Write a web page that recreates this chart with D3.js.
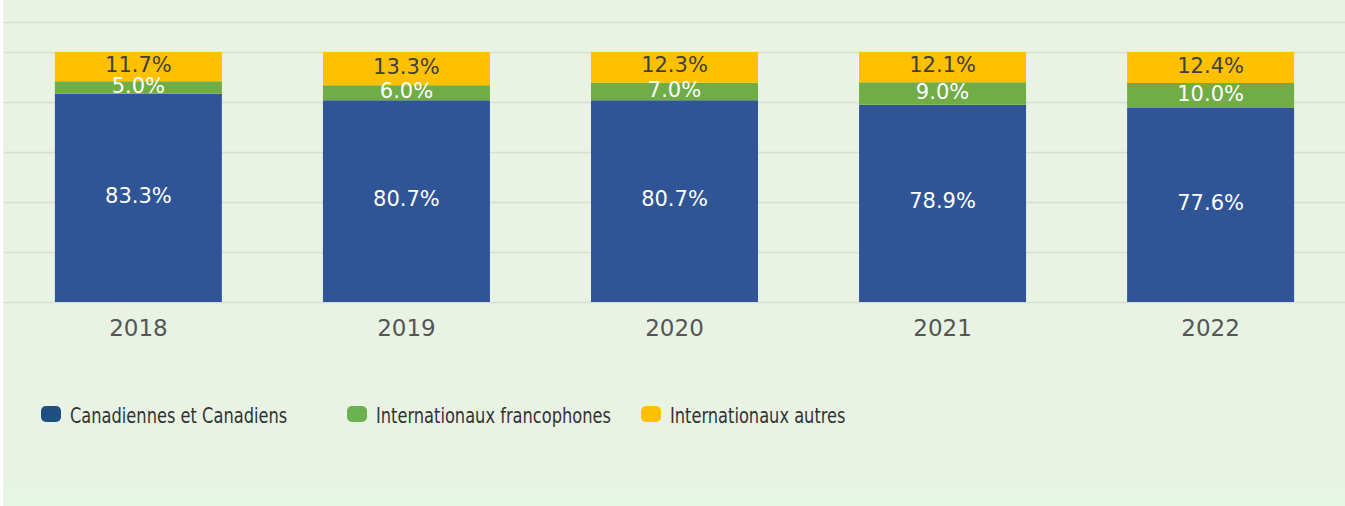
<!DOCTYPE html>
<html>
<head>
<meta charset="utf-8">
<script src="https://cdn.jsdelivr.net/npm/d3@7"></script>
<style>
  html, body { margin: 0; padding: 0; background: #ffffff; }
  svg { display: block; }
</style>
</head>
<body>
<svg width="1345" height="506"></svg>
<script>
// data
const years = ["2018", "2019", "2020", "2021", "2022"];
const canadiens = [83.3, 80.7, 80.7, 78.9, 77.6];
const francophones = [5.0, 6.0, 7.0, 9.0, 10.0];
const autres = [11.7, 13.3, 12.3, 12.1, 12.4];
const seriesNames = ["Canadiennes et Canadiens", "Internationaux francophones", "Internationaux autres"];
const gridTicks = [0, 20, 40, 60, 80, 100];

const barColors = ["#2f5597", "#70ad47", "#ffc000"];
const legendColors = ["#1f4e80", "#6ab150", "#ffc000"];
const labelColors = ["#ffffff", "#ffffff", "#404040"];

const svg = d3.select("svg");
const W = 1345, H = 506;

// background panels
svg.append("rect").attr("x", 3).attr("y", 0).attr("width", W - 3).attr("height", 486).attr("fill", "#e8f3e3");
svg.append("rect").attr("x", 3).attr("y", 486).attr("width", W - 3).attr("height", H - 486).attr("fill", "#e6f7e4");

let x = d3.scaleBand().domain(years).range([4.5, 1344.5]).paddingInner(0.377).paddingOuter(0.188);
let y = d3.scaleLinear().domain([0, 112]).range([302, 22]);

// grid
let g = svg.append("g");
g.selectAll("line.grid")
  .data(gridTicks.concat([y.domain()[1]]))
  .enter().append("line")
  .attr("class", "grid")
  .attr("x1", 4).attr("x2", W)
  .attr("y1", d => Math.round(y(d)) + 0.5)
  .attr("y2", d => Math.round(y(d)) + 0.5)
  .attr("stroke", "#d8dcd6")
  .attr("stroke-width", 1.5);

// stacked bars
let rows = years.map((yr, i) => ({ year: yr, s0: canadiens[i], s1: francophones[i], s2: autres[i] }));
let stacked = d3.stack().keys(["s0", "s1", "s2"])(rows);

g.selectAll(".series")
  .data(stacked)
  .enter().append("g")
  .attr("class", "series")
  .attr("fill", d => barColors[d.index])
  .selectAll("rect")
  .data(d => d)
  .enter().append("rect")
  .attr("x", d => x(d.data.year))
  .attr("y", d => y(d[1]))
  .attr("width", x.bandwidth())
  .attr("height", d => y(d[0]) - y(d[1]));

// value labels, drawn above all the bars
g.selectAll(".labels")
  .data(stacked)
  .enter().append("g")
  .attr("class", "labels")
  .attr("fill", d => labelColors[d.index])
  .selectAll("text")
  .data(d => d)
  .enter().append("text")
  .attr("x", d => x(d.data.year) + x.bandwidth() / 2)
  .attr("y", d => (y(d[0]) + y(d[1])) / 2 + 5)
  .attr("text-anchor", "middle")
  .attr("font-family", "DejaVu Sans")
  .attr("font-size", 21)
  .text(d => d3.format(".1f")(d[1] - d[0]) + "%");

// x axis labels
let xAxis = g.append("g")
  .attr("transform", "translate(0,302)")
  .call(d3.axisBottom(x).tickSize(0).tickPadding(0));
xAxis.select(".domain").remove();
xAxis.selectAll("text")
  .attr("dy", null)
  .attr("y", 34)
  .attr("font-family", "DejaVu Sans")
  .attr("font-size", 23)
  .attr("fill", "#555555");

// legend
let legendX = [41, 347, 641];
let legend = svg.append("g")
  .selectAll("g")
  .data(seriesNames)
  .enter().append("g")
  .attr("transform", (d, i) => "translate(" + legendX[i] + ",406)");

legend.append("rect")
  .attr("width", 20)
  .attr("height", 16)
  .attr("rx", 5)
  .attr("fill", (d, i) => legendColors[i]);

legend.append("text")
  .attr("transform", "translate(29,17) scale(0.86,1)")
  .attr("font-family", "'DejaVu Sans Condensed', 'DejaVu Sans'")
  .attr("font-stretch", "condensed")
  .attr("font-size", 21)
  .attr("fill", "#333333")
  .text(d => d);
</script>
</body>
</html>
